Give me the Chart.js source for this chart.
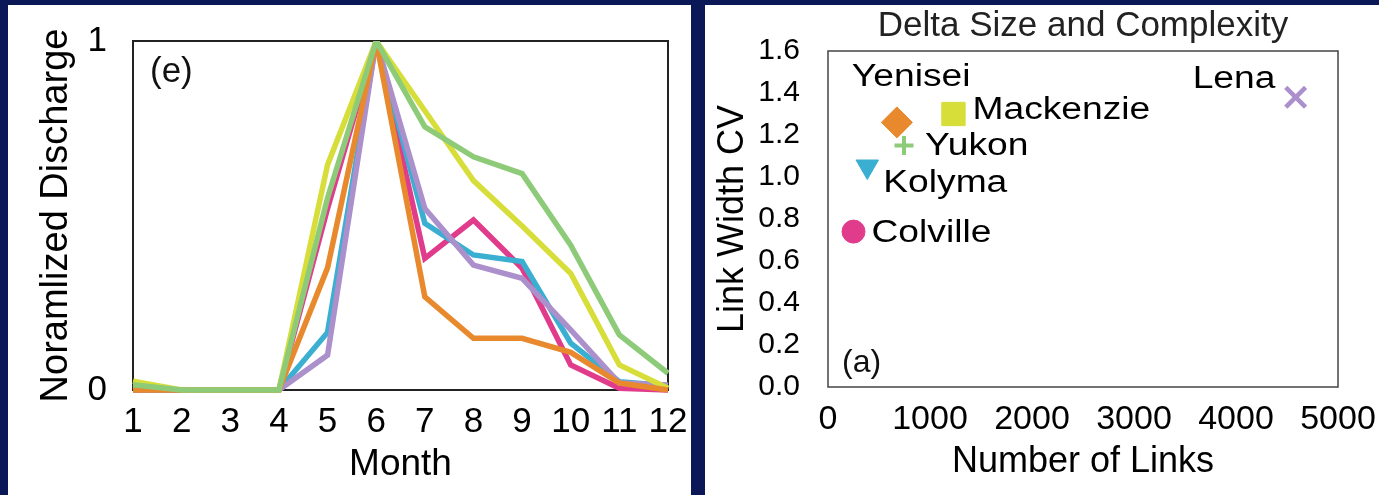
<!DOCTYPE html>
<html>
<head>
<meta charset="utf-8">
<script src="https://cdn.jsdelivr.net/npm/chart.js@4.4.1/dist/chart.umd.min.js"></script>
<style>
  html, body { margin: 0; padding: 0; width: 1379px; height: 495px; overflow: hidden; background: #0a1858; }
  .panel { position: absolute; background: #fff; }
  #left { left: 8px; top: 5px; width: 683px; height: 490px; }
  #right { left: 705px; top: 5px; width: 674px; height: 490px; }
</style>
</head>
<body>
<div class="panel" id="left"><canvas id="dischargeChart"></canvas></div>
<div class="panel" id="right"><canvas id="deltaChart"></canvas></div>
<script>
// monthly discharge, normalized to the June peak
const months = ["1", "2", "3", "4", "5", "6", "7", "8", "9", "10", "11", "12"];
const colville = [0, 0, 0, 0, 0.52, 1, 0.377, 0.487, 0.349, 0.072, 0.005, 0];
const kolyma = [0, 0, 0, 0, 0.165, 1, 0.478, 0.387, 0.368, 0.134, 0.024, 0.012];
const lena = [0, 0, 0, 0, 0.10, 1, 0.52, 0.358, 0.32, 0.172, 0.02, 0.014];
const mackenzie = [0.025, 0, 0, 0, 0.645, 1, 0.80, 0.60, 0.47, 0.334, 0.072, 0.005];
const yenisei = [0, 0, 0, 0, 0.35, 1, 0.267, 0.148, 0.148, 0.108, 0.02, 0];
const yukon = [0.015, 0, 0, 0, 0.55, 1, 0.754, 0.668, 0.62, 0.415, 0.158, 0.048];

// delta size vs. link width variability
const rivers = ["Colville", "Kolyma", "Yukon", "Yenisei", "Mackenzie", "Lena"];
const linkCounts = [250, 385, 745, 675, 1230, 4585];
const linkWidthCV = [0.74, 1.05, 1.15, 1.26, 1.30, 1.38];

const colors = {
  Colville: "#e13c8c",
  Kolyma: "#3aafd2",
  Yukon: "#8ecb79",
  Yenisei: "#e8892d",
  Mackenzie: "#d7de3a",
  Lena: "#ab90cc",
};

const markers = {
  Colville: { pointStyle: "circle", radius: 11.5, rotation: 0, borderWidth: 1 },
  Kolyma: { pointStyle: "triangle", radius: 13, rotation: 180, borderWidth: 1 },
  Yukon: { pointStyle: "cross", radius: 9.5, rotation: 0, borderWidth: 4 },
  Yenisei: { pointStyle: "rectRot", radius: 15.5, rotation: 0, borderWidth: 1 },
  Mackenzie: { pointStyle: "rect", radius: 16.5, rotation: 0, borderWidth: 1 },
  Lena: { pointStyle: "crossRot", radius: 14, rotation: 0, borderWidth: 4.5 },
};

// where each river name sits relative to its marker (left edge, baseline)
const labelOffsets = {
  Colville: [18, 10],
  Kolyma: [16, 25],
  Yukon: [21, 9],
  Yenisei: [-45, -36],
  Mackenzie: [19, 5],
  Lena: [-103, -9],
};

Chart.defaults.font.family = "'Liberation Sans', Arial, sans-serif";
Chart.defaults.color = "#000";

function frame(color, width) {
  return {
    id: "frame",
    beforeDatasetsDraw(chart) {
      const { ctx, chartArea: a } = chart;
      ctx.save();
      ctx.strokeStyle = color;
      ctx.lineWidth = width;
      ctx.strokeRect(a.left, a.top, a.right - a.left, a.bottom - a.top);
      ctx.restore();
    },
  };
}

function panelTag(text, size, dx, dy, fromBottom) {
  return {
    id: "panelTag",
    afterDatasetsDraw(chart) {
      const { ctx, chartArea: a } = chart;
      ctx.save();
      ctx.font = size + "px 'Liberation Sans', Arial, sans-serif";
      ctx.fillStyle = "#111";
      ctx.textBaseline = "alphabetic";
      ctx.fillText(text, a.left + dx, (fromBottom ? a.bottom : a.top) + dy);
      ctx.restore();
    },
  };
}

const riverLabels = {
  id: "riverLabels",
  afterDatasetsDraw(chart) {
    const { ctx } = chart;
    ctx.save();
    ctx.font = "31px 'Liberation Sans', Arial, sans-serif";
    ctx.fillStyle = "#000";
    ctx.textBaseline = "alphabetic";
    chart.data.datasets.forEach((ds, i) => {
      const pt = chart.getDatasetMeta(i).data[0];
      const [dx, dy] = labelOffsets[ds.label];
      ctx.save();
      ctx.translate(pt.x + dx, pt.y + dy);
      ctx.scale(1.2, 1);
      ctx.fillText(ds.label, 0, 0);
      ctx.restore();
    });
    ctx.restore();
  },
};

// keep the plot box fixed; edge tick labels may spill into the margin
function fixBox(size) {
  return function (scale) {
    if (scale.isHorizontal()) scale.height = size;
    else scale.width = size;
    scale.paddingLeft = 0;
    scale.paddingRight = 0;
    scale.paddingTop = 0;
    scale.paddingBottom = 0;
  };
}

const lineSeries = [
  ["Yukon", yukon],
  ["Yenisei", yenisei],
  ["Mackenzie", mackenzie],
  ["Lena", lena],
  ["Kolyma", kolyma],
  ["Colville", colville],
];

new Chart(document.getElementById("dischargeChart"), {
  type: "line",
  data: {
    labels: months,
    datasets: lineSeries.map(([name, values]) => ({
      label: name,
      data: values,
      borderColor: colors[name],
      backgroundColor: colors[name],
      clip: { left: 6, top: 0, right: 6, bottom: 6 },
    })),
  },
  options: {
    responsive: true,
    maintainAspectRatio: false,
    animation: false,
    layout: { padding: { top: 36, right: 23, left: 0, bottom: 0 } },
    elements: {
      line: { borderWidth: 5.5, tension: 0, borderJoinStyle: "miter" },
      point: { radius: 0 },
    },
    plugins: { legend: { display: false }, tooltip: { enabled: false } },
    scales: {
      x: {
        offset: false,
        grid: { display: false },
        border: { display: false },
        ticks: { font: { size: 35 }, padding: 3, maxRotation: 0, autoSkip: false },
        title: { display: true, text: "Month", font: { size: 37 }, padding: { top: 0, bottom: 8 } },
        afterFit: fixBox(105),
      },
      y: {
        min: 0,
        max: 1,
        grid: { display: false },
        border: { display: false },
        ticks: { stepSize: 1, font: { size: 35 }, padding: 18 },
        title: { display: true, text: "Noramlized Discharge", font: { size: 38 }, padding: { top: 26, bottom: 0 } },
        afterFit: fixBox(125),
      },
    },
  },
  plugins: [frame("#222", 2), panelTag("(e)", 35, 17, 41, false)],
});

new Chart(document.getElementById("deltaChart"), {
  type: "scatter",
  data: {
    datasets: rivers.map((name, i) => ({
      label: name,
      data: [{ x: linkCounts[i], y: linkWidthCV[i] }],
      pointStyle: markers[name].pointStyle,
      pointRadius: markers[name].radius,
      pointRotation: markers[name].rotation,
      pointBorderWidth: markers[name].borderWidth,
      backgroundColor: colors[name],
      borderColor: colors[name],
    })),
  },
  options: {
    responsive: true,
    maintainAspectRatio: false,
    animation: false,
    layout: { padding: { top: 0, right: 41, left: 0, bottom: 0 } },
    plugins: {
      legend: { display: false },
      tooltip: { enabled: false },
      title: {
        display: true,
        text: "Delta Size and Complexity",
        fullSize: false,
        color: "#222",
        font: { size: 35, weight: "normal" },
        padding: { top: 0, bottom: 4 },
      },
    },
    scales: {
      x: {
        min: 0,
        max: 5000,
        grid: { display: false },
        border: { display: false },
        ticks: { stepSize: 1000, font: { size: 34 }, padding: 4, maxRotation: 0, callback: (v) => String(v) },
        title: { display: true, text: "Number of Links", font: { size: 36 }, padding: { top: 0, bottom: 11 } },
        afterFit: fixBox(108),
      },
      y: {
        min: 0,
        max: 1.6,
        grid: { display: false },
        border: { display: false },
        ticks: { stepSize: 0.2, font: { size: 30 }, padding: 20, callback: (v) => v.toFixed(1) },
        title: { display: true, text: "Link Width CV", font: { size: 36 }, padding: { top: 6, bottom: 0 } },
        afterFit: fixBox(123),
      },
    },
  },
  plugins: [frame("#444", 1.5), riverLabels, panelTag("(a)", 32, 14, -15, true)],
});
</script>
</body>
</html>
